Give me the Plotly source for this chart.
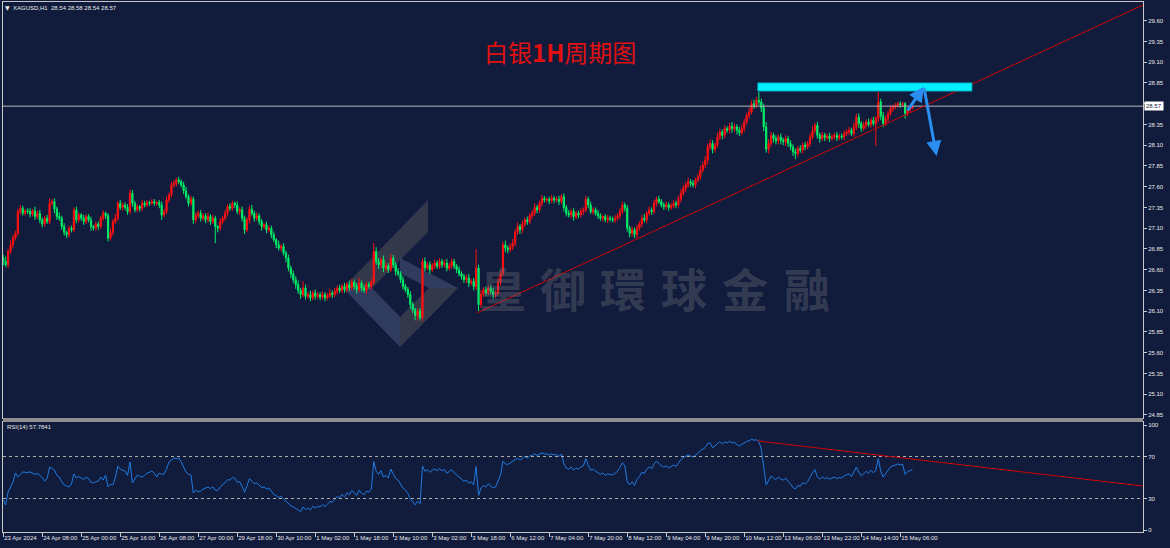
import plotly.graph_objects as go

# ---------------- DATA ----------------
closes = [
    26.70, 26.66, 26.82, 26.90, 26.98, 27.04, 27.30, 27.34, 27.28, 27.31,
    27.30, 27.27, 27.31, 27.24, 27.28, 27.20, 27.15, 27.22, 27.18, 27.40,
    27.42, 27.33, 27.24, 27.22, 27.12, 27.05, 27.02, 27.10, 27.08, 27.32,
    27.20, 27.26, 27.22, 27.18, 27.24, 27.20, 27.12, 27.10, 27.15, 27.12,
    27.22, 27.28, 27.25, 26.98, 27.05, 27.18, 27.22, 27.40, 27.35, 27.38,
    27.35, 27.30, 27.52, 27.40, 27.32, 27.36, 27.34, 27.40, 27.38, 27.41,
    27.40, 27.42, 27.40, 27.41, 27.38, 27.26, 27.30, 27.44, 27.50, 27.62,
    27.64, 27.68, 27.66, 27.62, 27.55, 27.48, 27.40, 27.45, 27.20, 27.25,
    27.28, 27.22, 27.25, 27.20, 27.24, 27.18, 27.22, 27.12, 27.10, 27.18,
    27.22, 27.28, 27.36, 27.34, 27.40, 27.38, 27.30, 27.32, 27.22, 27.08,
    27.20, 27.33, 27.28, 27.22, 27.25, 27.18, 27.12, 27.14, 27.08, 27.10,
    27.02, 26.96, 26.90, 26.86, 26.88, 26.80, 26.74, 26.62, 26.55, 26.48,
    26.42, 26.35, 26.30, 26.38, 26.28, 26.30, 26.26, 26.32, 26.28, 26.30,
    26.27, 26.30, 26.26, 26.29, 26.32, 26.30, 26.34, 26.38, 26.35, 26.40,
    26.36, 26.42, 26.38, 26.45, 26.40, 26.36, 26.44, 26.38, 26.35, 26.42,
    26.40, 26.45, 26.82, 26.70, 26.66, 26.72, 26.62, 26.65, 26.60, 26.74,
    26.66, 26.58, 26.55, 26.48, 26.40, 26.36, 26.30, 26.18, 26.12, 26.05,
    26.10, 26.02, 26.70, 26.62, 26.66, 26.60, 26.65, 26.68, 26.64, 26.70,
    26.66, 26.68, 26.62, 26.65, 26.70, 26.64, 26.60, 26.55, 26.52, 26.48,
    26.50, 26.44, 26.46, 26.40, 26.62, 26.18, 26.30, 26.36, 26.32, 26.38,
    26.34, 26.30, 26.32, 26.45, 26.55, 26.90, 26.86, 26.84, 26.88, 26.92,
    27.05, 27.12, 27.08, 27.15, 27.20, 27.18, 27.25, 27.28, 27.35, 27.32,
    27.40, 27.46, 27.44, 27.45, 27.43, 27.46, 27.44, 27.45, 27.42, 27.48,
    27.35, 27.28, 27.26, 27.30, 27.24, 27.28, 27.26, 27.30, 27.32, 27.45,
    27.38, 27.30, 27.32, 27.28, 27.25, 27.22, 27.24, 27.20, 27.22, 27.21,
    27.20, 27.22, 27.25, 27.30, 27.38, 27.34, 27.10, 27.04, 27.08, 27.02,
    27.10, 27.15, 27.22, 27.20, 27.28, 27.32, 27.30, 27.40, 27.45, 27.42,
    27.38, 27.36, 27.38, 27.35, 27.37, 27.40, 27.38, 27.45, 27.52, 27.58,
    27.62, 27.66, 27.64, 27.62, 27.68, 27.72, 27.80, 27.86, 27.92, 28.08,
    28.12, 28.05, 28.10, 28.20, 28.26, 28.22, 28.30, 28.28, 28.33, 28.30,
    28.32, 28.28, 28.25, 28.30, 28.38, 28.46, 28.50, 28.60, 28.58, 28.64,
    28.62, 28.55, 28.32, 28.05, 28.12, 28.22, 28.18, 28.15, 28.20, 28.16,
    28.14, 28.18, 28.12, 28.08, 28.02, 28.00, 28.06, 28.04, 28.10, 28.08,
    28.12, 28.20, 28.28, 28.34, 28.22, 28.18, 28.22, 28.19, 28.21, 28.18,
    28.20, 28.22, 28.19, 28.21, 28.20, 28.24, 28.26, 28.28, 28.24, 28.32,
    28.44, 28.36, 28.30, 28.34, 28.38, 28.35, 28.40, 28.36, 28.42, 28.62,
    28.45, 28.36, 28.42, 28.48, 28.54, 28.56, 28.58, 28.60, 28.59, 28.60,
    28.48, 28.52, 28.54, 28.57,
]
first_open = 26.74

wick_up = [
    .04, .06, .03, .05, .04, .03, .03, .04, .03, .02,
    .03, .04, .02, .05, .03, .04, .03, .03, .04, .06,
    .03, .04, .03, .05, .03, .04, .02, .03, .03, .03,
    .04, .03, .02, .04, .03, .03, .04, .02, .03, .03,
    .03, .04, .02, .03, .04, .03, .05, .03, .04, .03,
    .03, .04, .05, .04, .03, .03, .02, .04, .03, .03,
    .02, .03, .03, .02, .03, .04, .03, .04, .03, .04,
    .04, .03, .04, .03, .04, .05, .03, .04, .03, .04,
    .03, .04, .03, .03, .05, .03, .04, .03, .02, .04,
    .03, .04, .03, .04, .03, .02, .04, .03, .04, .03,
    .03, .04, .05, .03, .04, .03, .03, .02, .04, .03,
    .03, .04, .02, .05, .03, .04, .03, .04, .03, .04,
    .04, .05, .03, .08, .04, .03, .05, .03, .04, .03,
    .03, .04, .03, .03, .05, .03, .04, .03, .04, .03,
    .04, .03, .05, .04, .03, .04, .06, .03, .04, .03,
    .03, .04, .10, .05, .04, .03, .05, .04, .03, .05,
    .04, .03, .04, .03, .04, .03, .03, .04, .03, .02,
    .03, .04, .04, .05, .03, .04, .03, .04, .03, .04,
    .03, .04, .05, .03, .04, .03, .03, .04, .03, .03,
    .04, .05, .03, .04, .23, .04, .05, .03, .04, .03,
    .03, .04, .03, .05, .04, .04, .05, .03, .04, .05,
    .04, .05, .03, .04, .03, .04, .03, .04, .05, .03,
    .03, .04, .03, .02, .03, .04, .03, .03, .04, .03,
    .04, .03, .04, .03, .04, .03, .03, .04, .03, .04,
    .03, .04, .03, .03, .04, .03, .02, .03, .04, .03,
    .03, .04, .03, .04, .04, .03, .04, .03, .04, .03,
    .04, .03, .04, .05, .03, .04, .03, .04, .03, .04,
    .03, .03, .04, .03, .03, .04, .03, .04, .05, .04,
    .04, .05, .03, .04, .03, .04, .05, .04, .05, .04,
    .05, .04, .03, .05, .04, .03, .04, .03, .04, .05,
    .04, .03, .04, .05, .04, .03, .05, .04, .05, .04,
    .10, .04, .05, .06, .05, .04, .03, .04, .03, .04,
    .03, .04, .03, .04, .03, .04, .03, .04, .03, .04,
    .03, .04, .05, .03, .04, .03, .04, .03, .03, .04,
    .03, .03, .04, .03, .03, .04, .03, .04, .03, .05,
    .04, .04, .03, .04, .03, .04, .03, .04, .03, .12,
    .04, .05, .04, .03, .04, .03, .03, .02, .03, .02,
    .02, .02, .02, .01,
]

wick_dn = [
    .05, .03, .04, .03, .04, .03, .03, .04, .03, .03,
    .03, .04, .03, .04, .03, .04, .04, .03, .03, .03,
    .03, .05, .04, .03, .04, .04, .04, .03, .03, .03,
    .04, .03, .03, .04, .03, .03, .05, .03, .03, .04,
    .03, .03, .04, .04, .03, .04, .03, .03, .03, .04,
    .03, .04, .03, .04, .03, .03, .04, .03, .03, .03,
    .03, .02, .03, .03, .04, .06, .03, .03, .03, .03,
    .03, .04, .03, .03, .04, .03, .04, .03, .05, .04,
    .03, .04, .03, .04, .03, .04, .03, .20, .05, .03,
    .03, .03, .04, .03, .03, .04, .03, .04, .04, .05,
    .03, .04, .03, .04, .03, .04, .05, .03, .04, .03,
    .04, .03, .04, .03, .04, .03, .05, .04, .05, .04,
    .05, .04, .05, .03, .04, .03, .04, .03, .04, .03,
    .04, .03, .04, .03, .03, .04, .03, .04, .03, .03,
    .04, .03, .04, .03, .04, .05, .03, .04, .03, .04,
    .03, .04, .03, .04, .05, .04, .05, .04, .04, .03,
    .04, .05, .03, .04, .04, .03, .04, .05, .04, .06,
    .06, .03, .04, .04, .03, .05, .03, .04, .03, .03,
    .04, .03, .04, .03, .04, .03, .04, .03, .04, .04,
    .04, .05, .03, .05, .04, .08, .04, .03, .04, .03,
    .04, .05, .04, .03, .04, .03, .05, .04, .03, .04,
    .04, .03, .05, .04, .03, .04, .03, .04, .03, .04,
    .03, .04, .03, .03, .04, .03, .04, .03, .04, .03,
    .05, .04, .03, .04, .05, .03, .04, .03, .04, .03,
    .04, .03, .04, .03, .04, .03, .04, .03, .04, .03,
    .03, .04, .03, .04, .03, .04, .04, .05, .04, .04,
    .04, .03, .04, .03, .04, .03, .04, .03, .04, .03,
    .03, .04, .03, .04, .03, .03, .04, .03, .04, .03,
    .04, .03, .04, .03, .04, .03, .04, .03, .04, .05,
    .04, .05, .04, .03, .04, .05, .04, .03, .04, .05,
    .04, .05, .04, .03, .04, .03, .04, .03, .04, .03,
    .04, .05, .05, .04, .05, .04, .05, .04, .04, .05,
    .04, .05, .04, .04, .05, .07, .04, .03, .04, .04,
    .03, .04, .03, .04, .04, .05, .03, .04, .03, .04,
    .03, .03, .04, .03, .03, .04, .03, .04, .03, .04,
    .04, .05, .04, .03, .04, .03, .04, .03, .27, .04,
    .05, .04, .03, .04, .03, .04, .03, .03, .04, .03,
    .06, .03, .02, .00,
]

rsi_vals = [
    28.6, 23.8, 36.2, 41.0, 45.7, 54.3, 50.5, 53.0, 55.2, 55.0,
    54.5, 55.5, 54.3, 53.0, 54.0, 52.4, 50.0, 46.7, 49.0, 60.0,
    58.5, 57.1, 52.0, 50.5, 46.0, 42.9, 42.0, 41.0, 44.0, 53.3,
    49.5, 51.0, 49.5, 48.0, 50.5, 49.0, 45.5, 44.8, 46.0, 46.7,
    50.5, 47.6, 52.4, 41.0, 43.5, 42.9, 50.0, 61.0, 58.0, 57.0,
    56.0, 52.0, 64.8, 44.8, 48.0, 52.4, 51.0, 50.5, 52.0, 54.3,
    55.0, 56.2, 54.0, 50.5, 54.3, 53.0, 53.3, 58.0, 64.8, 67.0,
    68.6, 68.0, 68.6, 64.8, 60.0, 55.2, 53.0, 52.4, 35.2, 38.0,
    36.2, 37.1, 39.0, 40.0, 41.0, 39.5, 41.0, 38.0, 37.5, 41.0,
    43.0, 45.0, 48.0, 47.5, 50.0, 49.5, 45.5, 46.0, 41.5, 36.0,
    42.0, 49.0, 46.5, 44.0, 45.0, 42.5, 40.5, 41.0, 39.0, 40.0,
    36.5, 34.0, 32.5, 31.0, 32.0, 29.5, 27.5, 24.5, 23.0, 22.0,
    20.5, 18.5, 17.5, 22.0, 19.5, 21.0, 19.0, 22.5, 21.0, 22.5,
    22.0, 24.0, 22.5, 24.5, 27.0, 26.5, 29.5, 32.0, 30.5, 34.0,
    31.5, 35.5, 33.5, 37.5, 35.5, 33.0, 38.0, 35.0, 33.5, 37.0,
    36.0, 39.0, 65.0, 56.0, 53.0, 56.5, 50.5, 52.0, 49.5, 58.0,
    53.5, 49.0, 47.5, 44.0, 40.0, 38.0, 35.0, 29.5, 27.0, 24.0,
    27.5, 25.0, 61.0, 56.0, 57.5, 55.0, 57.0, 58.0, 56.5, 58.5,
    56.5, 57.5, 54.0, 55.5, 57.5, 54.5, 52.5, 50.0, 48.5, 46.5,
    47.5, 44.5, 46.0, 43.0, 60.5, 33.0, 40.0, 42.5, 41.0, 44.0,
    42.0, 40.0, 41.0, 47.5, 52.0, 65.5, 63.0, 62.5, 64.0, 65.0,
    67.0, 68.5, 66.5, 68.5, 70.0, 68.5, 70.5, 71.0, 72.5, 71.0,
    72.0, 73.5, 72.5, 72.5, 71.5, 72.5, 71.5, 72.0, 70.0, 72.5,
    63.0, 59.0, 58.0, 60.0, 57.0, 59.0, 58.0, 60.0, 61.0, 68.0,
    61.5, 57.0, 58.0, 56.0, 54.5, 53.0, 54.5, 52.0, 53.5, 53.0,
    52.5, 54.0, 56.0, 59.5, 64.0, 61.0, 46.0, 43.0, 46.0, 42.5,
    48.0, 51.0, 55.0, 54.0, 58.0, 60.0, 58.5, 63.0, 65.5, 63.5,
    61.0, 60.0, 61.0, 59.0, 60.5, 62.0, 60.5, 64.0, 67.0, 69.0,
    70.0, 71.5, 70.5, 69.5, 71.5, 73.0, 75.5, 77.0, 78.5, 82.5,
    83.0, 78.5, 80.0, 82.5, 84.0, 82.0, 84.0, 83.0, 84.5, 83.0,
    83.5, 81.5, 80.0, 81.5, 83.0, 84.5, 85.0, 86.5, 85.5, 86.0,
    84.5, 77.0, 60.0, 43.0, 47.0, 51.5, 49.5, 48.0, 50.5, 48.5,
    47.5, 49.5, 46.0, 44.0, 40.5, 39.0, 42.5, 41.5, 45.0, 44.0,
    46.0, 50.5, 54.5, 57.5, 50.5, 48.5, 50.5, 49.0, 50.0, 48.5,
    49.5, 50.5, 49.0, 50.0, 49.5, 51.5, 52.5, 53.5, 51.0, 55.0,
    60.0, 55.0, 51.5, 53.5, 56.0, 54.0, 57.0, 54.5, 57.0, 68.0,
    56.0, 50.5, 54.0, 57.0, 60.0, 61.0, 62.0, 63.0, 62.0, 62.5,
    53.0, 55.5, 56.5, 57.8,
]

time_tick_pos = [0, 16, 32, 48, 64, 80, 96, 112, 128, 144, 160, 176,
                 192, 208, 224, 240, 256, 272, 288, 304, 320, 336, 352, 368]
time_tick_text = ["23 Apr 2024", "24 Apr 08:00", "25 Apr 00:00", "25 Apr 16:00",
                  "26 Apr 08:00", "27 Apr 00:00", "29 Apr 18:00", "30 Apr 10:00",
                  "1 May 02:00", "1 May 18:00", "2 May 10:00", "3 May 02:00",
                  "3 May 18:00", "6 May 12:00", "7 May 04:00", "7 May 20:00",
                  "8 May 12:00", "9 May 04:00", "9 May 20:00", "10 May 12:00",
                  "13 May 06:00", "13 May 22:00", "14 May 14:00", "15 May 06:00"]
price_tick_text = ["24.85", "25.10", "25.35", "25.60", "25.85", "26.10", "26.35",
                   "26.60", "26.85", "27.10", "27.35", "27.60", "27.85", "28.10",
                   "28.35", "28.60", "28.85", "29.10", "29.35", "29.60"]
rsi_tick_vals = [0, 30, 70, 100]
last_price = 28.57
header_text = "XAGUSD,H1  28.54 28.58 28.54 28.57"
rsi_label = "RSI(14) 57.7841"
title_text = "白银<b>1H</b>周期图"
watermark_chars = ["皇", "御", "環", "球", "金", "融"]

# drawn objects (data units)
trend_main = (194.3, 26.078, 467.6, 29.789)
trend_rsi = (309.6, 84.8, 467.6, 41.9)
resistance_box = (309.6, 28.753, 397.4, 28.849)
arrow_up = (370.6, 28.50, 377.7, 28.805)
arrow_down = (377.7, 28.805, 382.9, 27.97)

assert len(closes) == len(wick_up) == len(wick_dn) == len(rsi_vals)

# ---------------- BUILD ----------------
n = len(closes)
idx = list(range(n))
opens = [first_open] + closes[:-1]
highs = [max(o, c) + w for o, c, w in zip(opens, closes, wick_up)]
lows = [min(o, c) - w for o, c, w in zip(opens, closes, wick_dn)]

BG = "#111c3d"
AX = "#c8c8c8"
TXT = "#e8e8e8"
SMALL = "Liberation Sans, Arial, sans-serif"

W, H = 1170, 548
ML, MR, MT, MB = 3, 27, 2, 16
PW, PH = W - ML - MR, H - MT - MB


def px_x(px):
    return (px - ML) / PW


def px_y(py):
    return (H - MB - py) / PH


XR = [-0.1, 467.6]

fig = go.Figure()
fig.add_trace(go.Candlestick(
    x=idx, open=opens, high=highs, low=lows, close=closes,
    increasing=dict(line=dict(color="#ff1010", width=1), fillcolor="#ff1010"),
    decreasing=dict(line=dict(color="#00ee66", width=1), fillcolor="#00ee66"),
    whiskerwidth=0, hoverinfo="skip", showlegend=False,
    xaxis="x", yaxis="y"))
fig.add_trace(go.Scatter(
    x=idx, y=rsi_vals, mode="lines", line=dict(color="#1f7ae0", width=1),
    hoverinfo="skip", showlegend=False, xaxis="x2", yaxis="y2"))

shapes = []


def poly(points, color):
    d = "M " + " L ".join(f"{px_x(a):.5f},{px_y(b):.5f}" for a, b in points) + " Z"
    return dict(type="path", path=d, xref="paper", yref="paper",
                fillcolor=color, line=dict(width=0), layer="below")


warm = "rgba(125,115,105,0.33)"
cool = "rgba(120,135,180,0.30)"
shapes += [
    poly([(428, 200), (428, 232), (372, 288), (343, 288)], warm),
    poly([(343, 288), (400, 347), (400, 317), (372, 288)], cool),
    poly([(400, 347), (458, 288), (429, 288), (400, 317)], warm),
    poly([(400, 258), (458, 288), (429, 288), (400, 273)], cool),
]
# separator between panels
shapes.append(dict(type="rect", xref="paper", yref="paper", x0=0, x1=1,
                   y0=px_y(422), y1=px_y(418), fillcolor="#8f8f8f",
                   line=dict(width=0)))
# current price line
shapes.append(dict(type="line", xref="paper", yref="y", x0=0, x1=1,
                   y0=last_price, y1=last_price, line=dict(color="#b8b8b8", width=1)))
# main trendline
shapes.append(dict(type="line", xref="x", yref="y",
                   x0=trend_main[0], y0=trend_main[1], x1=trend_main[2], y1=trend_main[3],
                   line=dict(color="#d00000", width=1)))
# resistance box
shapes.append(dict(type="rect", xref="x", yref="y",
                   x0=resistance_box[0], y0=resistance_box[1],
                   x1=resistance_box[2], y1=resistance_box[3],
                   fillcolor="#00f0ff", line=dict(color="#00b8c8", width=1)))
# RSI levels
for lv in (70, 30):
    shapes.append(dict(type="line", xref="paper", yref="y2", x0=0, x1=1,
                       y0=lv, y1=lv, line=dict(color="#b0b0b0", width=1, dash="dot")))
# RSI trendline
shapes.append(dict(type="line", xref="x2", yref="y2",
                   x0=trend_rsi[0], y0=trend_rsi[1], x1=trend_rsi[2], y1=trend_rsi[3],
                   line=dict(color="#d00000", width=1)))

annotations = []
wm_centers = [503, 563, 623, 684, 745, 807]
for ch, cx in zip(watermark_chars, wm_centers):
    annotations.append(dict(text=f"<b>{ch}</b>", x=px_x(cx), y=px_y(287),
                            xref="paper", yref="paper", showarrow=False,
                            xanchor="center", yanchor="middle",
                            font=dict(family="Noto Sans CJK TC", size=46,
                                      color="rgba(125,125,130,0.33)")))
annotations.append(dict(text=title_text, x=px_x(560), y=px_y(52), xref="paper",
                        yref="paper", showarrow=False, xanchor="center", yanchor="middle",
                        font=dict(family="Noto Sans CJK SC", size=24, color="#e01010")))
annotations.append(dict(text="▼", x=px_x(3), y=px_y(8), xref="paper", yref="paper",
                        xanchor="left", yanchor="middle", showarrow=False,
                        font=dict(family="DejaVu Sans", size=6, color=TXT)))
annotations.append(dict(text=header_text, x=px_x(11), y=px_y(8), xref="paper",
                        yref="paper", xanchor="left", yanchor="middle", showarrow=False,
                        font=dict(family=SMALL, size=6, color=TXT)))
annotations.append(dict(text=rsi_label, x=px_x(5), y=px_y(427), xref="paper",
                        yref="paper", xanchor="left", yanchor="middle", showarrow=False,
                        font=dict(family=SMALL, size=6, color=TXT)))
annotations.append(dict(text=f"{last_price:.2f}", x=1, xshift=1, y=last_price,
                        xref="paper", yref="y", xanchor="left", yanchor="middle",
                        showarrow=False, bgcolor="#ffffff", borderpad=1,
                        font=dict(family=SMALL, size=6, color="#111c3d")))
for a in (arrow_up, arrow_down):
    annotations.append(dict(text="", x=a[2], y=a[3], ax=a[0], ay=a[1],
                            xref="x", yref="y", axref="x", ayref="y",
                            showarrow=True, arrowhead=2, arrowsize=1,
                            arrowwidth=3, arrowcolor="#2a8ff0"))

price_tick_vals = [float(t) for t in price_tick_text]

fig.update_layout(
    width=W, height=H,
    margin=dict(l=ML, r=MR, t=MT, b=MB, pad=0, autoexpand=False),
    paper_bgcolor=BG, plot_bgcolor=BG,
    showlegend=False,
    shapes=shapes, annotations=annotations,
    xaxis=dict(domain=[0, 1], range=XR, anchor="y", showgrid=False, zeroline=False,
               showticklabels=False, showline=True, linecolor=AX, linewidth=1,
               mirror=True, rangeslider=dict(visible=False), fixedrange=True,
               automargin=False),
    yaxis=dict(domain=[px_y(418), 1], range=[24.813, 29.825], side="right",
               anchor="x", showgrid=False, zeroline=False, showline=True,
               linecolor=AX, linewidth=1, mirror=True, ticks="outside", ticklen=3,
               tickcolor=AX, tickvals=price_tick_vals, ticktext=price_tick_text,
               tickfont=dict(family=SMALL, size=6, color=TXT), automargin=False),
    xaxis2=dict(domain=[0, 1], range=XR, anchor="y2", showgrid=False, zeroline=False,
                showline=True, linecolor=AX, linewidth=1, mirror=True,
                ticks="outside", ticklen=4, tickcolor=AX,
                tickvals=time_tick_pos, ticktext=time_tick_text, tickangle=0,
                ticklabelposition="outside right", automargin=False,
                tickfont=dict(family=SMALL, size=6, color=TXT)),
    yaxis2=dict(domain=[0, px_y(422)], range=[-1.9, 102.9], side="right",
                anchor="x2", showgrid=False, zeroline=False, showline=True,
                linecolor=AX, linewidth=1, mirror=True, ticks="outside", ticklen=3,
                tickcolor=AX, tickvals=rsi_tick_vals, automargin=False,
                ticktext=[str(v) for v in rsi_tick_vals],
                tickfont=dict(family=SMALL, size=6, color=TXT)),
)

fig.write_html("out.html")
